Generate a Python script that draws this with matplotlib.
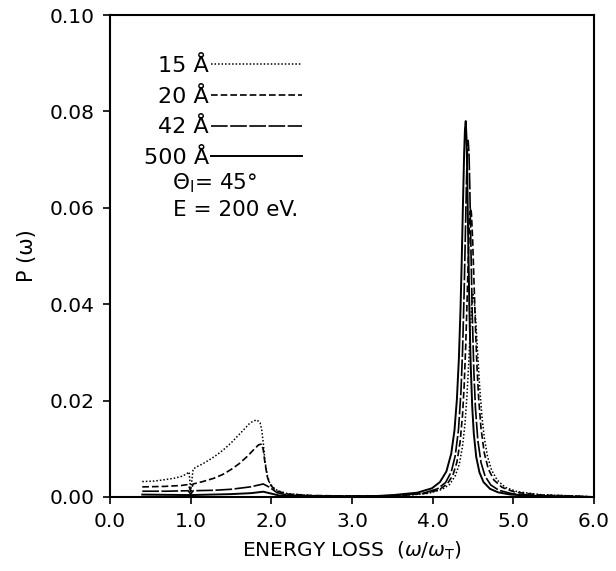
import matplotlib
matplotlib.use("Agg")
import matplotlib.pyplot as plt
import numpy as np

# energy loss (omega / omega_T) and loss probability P(omega) for each film thickness
x_15 = [0.40, 0.55, 0.68, 0.80, 0.89, 0.95, 0.98, 1.00, 1.03, 1.08, 1.15, 1.25, 1.33, 1.42,
        1.50, 1.58, 1.66, 1.72, 1.77, 1.82, 1.86, 1.88, 1.90, 1.92, 1.95, 1.98, 2.03, 2.08,
        2.20, 2.50, 3.00, 3.40, 3.65, 3.95, 4.12, 4.21, 4.28, 4.33, 4.37, 4.40, 4.425, 4.445,
        4.465, 4.485, 4.50, 4.515, 4.535, 4.555, 4.58, 4.61, 4.64, 4.68, 4.73, 4.80, 4.90,
        5.05, 5.35, 5.80, 6.00]
p_15 = [0.0032, 0.0033, 0.0036, 0.0039, 0.0043, 0.0048, 0.0052, 0.0012, 0.0058, 0.0063,
        0.0069, 0.0079, 0.0088, 0.0100, 0.0112, 0.0126, 0.0140, 0.0151, 0.0157, 0.0160,
        0.0154, 0.0140, 0.0112, 0.0075, 0.0045, 0.0029, 0.0019, 0.0013, 0.0007, 0.0003,
        0.0002, 0.0002, 0.00032, 0.00077, 0.0016, 0.0026, 0.0044, 0.0068, 0.0105, 0.0151,
        0.0210, 0.0273, 0.0345, 0.0404, 0.0420, 0.0409, 0.0365, 0.0306, 0.0235, 0.0168,
        0.0123, 0.0084, 0.0056, 0.0035, 0.0020, 0.0011, 0.00047, 0.0002, 0.0]

x_20 = [0.40, 0.68, 0.89, 0.97, 1.00, 1.03, 1.15, 1.29, 1.40, 1.50, 1.60, 1.70, 1.78, 1.84,
        1.88, 1.90, 1.92, 1.95, 1.98, 2.03, 2.08, 2.20, 2.50, 3.00, 3.40, 3.62, 3.92, 4.08,
        4.18, 4.25, 4.30, 4.34, 4.37, 4.39, 4.41, 4.43, 4.445, 4.46, 4.47, 4.48, 4.495, 4.51,
        4.53, 4.55, 4.57, 4.60, 4.64, 4.69, 4.76, 4.86, 5.02, 5.32, 5.77, 6.00]
p_20 = [0.0021, 0.0022, 0.0024, 0.0026, 0.0012, 0.0027, 0.0032, 0.0039, 0.0047, 0.0057,
        0.0069, 0.0084, 0.0098, 0.0108, 0.0110, 0.0098, 0.0072, 0.0042, 0.0027, 0.0017,
        0.0012, 0.0006, 0.0003, 0.0002, 0.0002, 0.00033, 0.00078, 0.0015, 0.0027, 0.0045,
        0.0072, 0.0114, 0.0170, 0.0230, 0.0315, 0.0428, 0.0518, 0.0585, 0.0600, 0.0589,
        0.0535, 0.0458, 0.0354, 0.0268, 0.0205, 0.0141, 0.0091, 0.0058, 0.0035, 0.0020,
        0.0010, 0.00043, 0.00018, 0.0]

x_42 = [0.40, 0.70, 0.97, 1.00, 1.03, 1.30, 1.50, 1.74, 1.90, 1.98, 2.07, 2.20, 2.60, 3.00,
        3.30, 3.59, 3.89, 4.06, 4.16, 4.23, 4.28, 4.32, 4.35, 4.37, 4.39, 4.405, 4.42, 4.43,
        4.44, 4.45, 4.46, 4.475, 4.49, 4.51, 4.53, 4.56, 4.60, 4.65, 4.72, 4.82, 4.99, 5.29,
        5.74, 6.00]
p_42 = [0.0012, 0.0012, 0.0013, 0.0006, 0.0013, 0.0014, 0.0016, 0.0021, 0.0027, 0.0020,
        0.0009, 0.0004, 0.0002, 0.0002, 0.0002, 0.00034, 0.00081, 0.0017, 0.0030, 0.0052,
        0.0086, 0.0140, 0.0217, 0.0301, 0.0425, 0.0543, 0.0661, 0.0719, 0.0740, 0.0714,
        0.0645, 0.0509, 0.0384, 0.0263, 0.0185, 0.0117, 0.0071, 0.0043, 0.0025, 0.0014,
        0.00066, 0.00028, 0.00012, 0.0]

x_500 = [0.40, 1.00, 1.50, 1.75, 1.90, 2.00, 2.10, 2.30, 3.00, 3.30, 3.51, 3.81, 3.99, 4.09,
         4.17, 4.23, 4.27, 4.30, 4.325, 4.345, 4.36, 4.375, 4.39, 4.40, 4.41, 4.42, 4.43,
         4.44, 4.455, 4.47, 4.49, 4.51, 4.54, 4.58, 4.63, 4.71, 4.81, 4.96, 5.21, 5.61, 6.00]
p_500 = [0.0005, 0.0004, 0.0006, 0.0008, 0.0011, 0.0007, 0.0003, 0.0002, 0.0001, 0.0002,
         0.0004, 0.0009, 0.0018, 0.0031, 0.0053, 0.0090, 0.0138, 0.0202, 0.0288, 0.0390,
         0.0490, 0.0605, 0.0713, 0.0762, 0.0780, 0.0743, 0.0651, 0.0540, 0.0390, 0.0281,
         0.0188, 0.0131, 0.0083, 0.0051, 0.0031, 0.0017, 0.00097, 0.00052, 0.00025,
         0.00011, 0.0]

labels = ["15 Å", "20 Å", "42 Å", "500 Å"]
x_ticks = [0.0, 1.0, 2.0, 3.0, 4.0, 5.0, 6.0]
y_ticks = [0.00, 0.02, 0.04, 0.06, 0.08, 0.10]

plt.rcParams["font.family"] = ["DejaVu Sans"]

fig = plt.figure(figsize=(6.16, 5.71), dpi=100)
ax = fig.add_axes([0.1786, 0.1296, 0.7857, 0.8441])

ax.plot(x_15, p_15, color="black", lw=1.1, linestyle=(0, (1.0, 1.3)), label=labels[0])
ax.plot(x_20, p_20, color="black", lw=1.2, linestyle=(0, (4.0, 1.8)), label=labels[1])
ax.plot(x_42, p_42, color="black", lw=1.2, linestyle=(0, (10.0, 1.5)), label=labels[2])
ax.plot(x_500, p_500, color="black", lw=1.4, linestyle="-", label=labels[3])

ax.set_xlim(0.0, 6.0)
ax.set_ylim(0.0, 0.10)
ax.set_xticks(x_ticks)
ax.set_xticklabels([f"{t:.1f}" for t in x_ticks])
ax.set_yticks(y_ticks)
ax.set_yticklabels([f"{t:.2f}" for t in y_ticks])
ax.tick_params(direction="out", length=5, width=1.2, labelsize=14.5, pad=6,
               top=False, right=False)
for spine in ax.spines.values():
    spine.set_linewidth(1.5)

ax.set_xlabel(r"ENERGY LOSS  ($\omega/\omega_\mathrm{T}$)", fontsize=14.5, labelpad=6)
ax.set_ylabel("P (ω)", fontsize=15, labelpad=9)

leg = ax.legend(loc="upper right", bbox_to_anchor=(0.397, 0.915), markerfirst=False,
                frameon=False, fontsize=16, handlelength=4.1, handletextpad=0.1,
                labelspacing=0.48, borderpad=0.0, borderaxespad=0.0)

ax.text(0.128, 0.651, r"$\Theta_\mathrm{I}$= 45°", transform=ax.transAxes,
        fontsize=15.5, ha="left", va="center")
ax.text(0.130, 0.595, "E = 200 eV.", transform=ax.transAxes,
        fontsize=15.5, ha="left", va="center")

fig.savefig("out.png", dpi=100)
